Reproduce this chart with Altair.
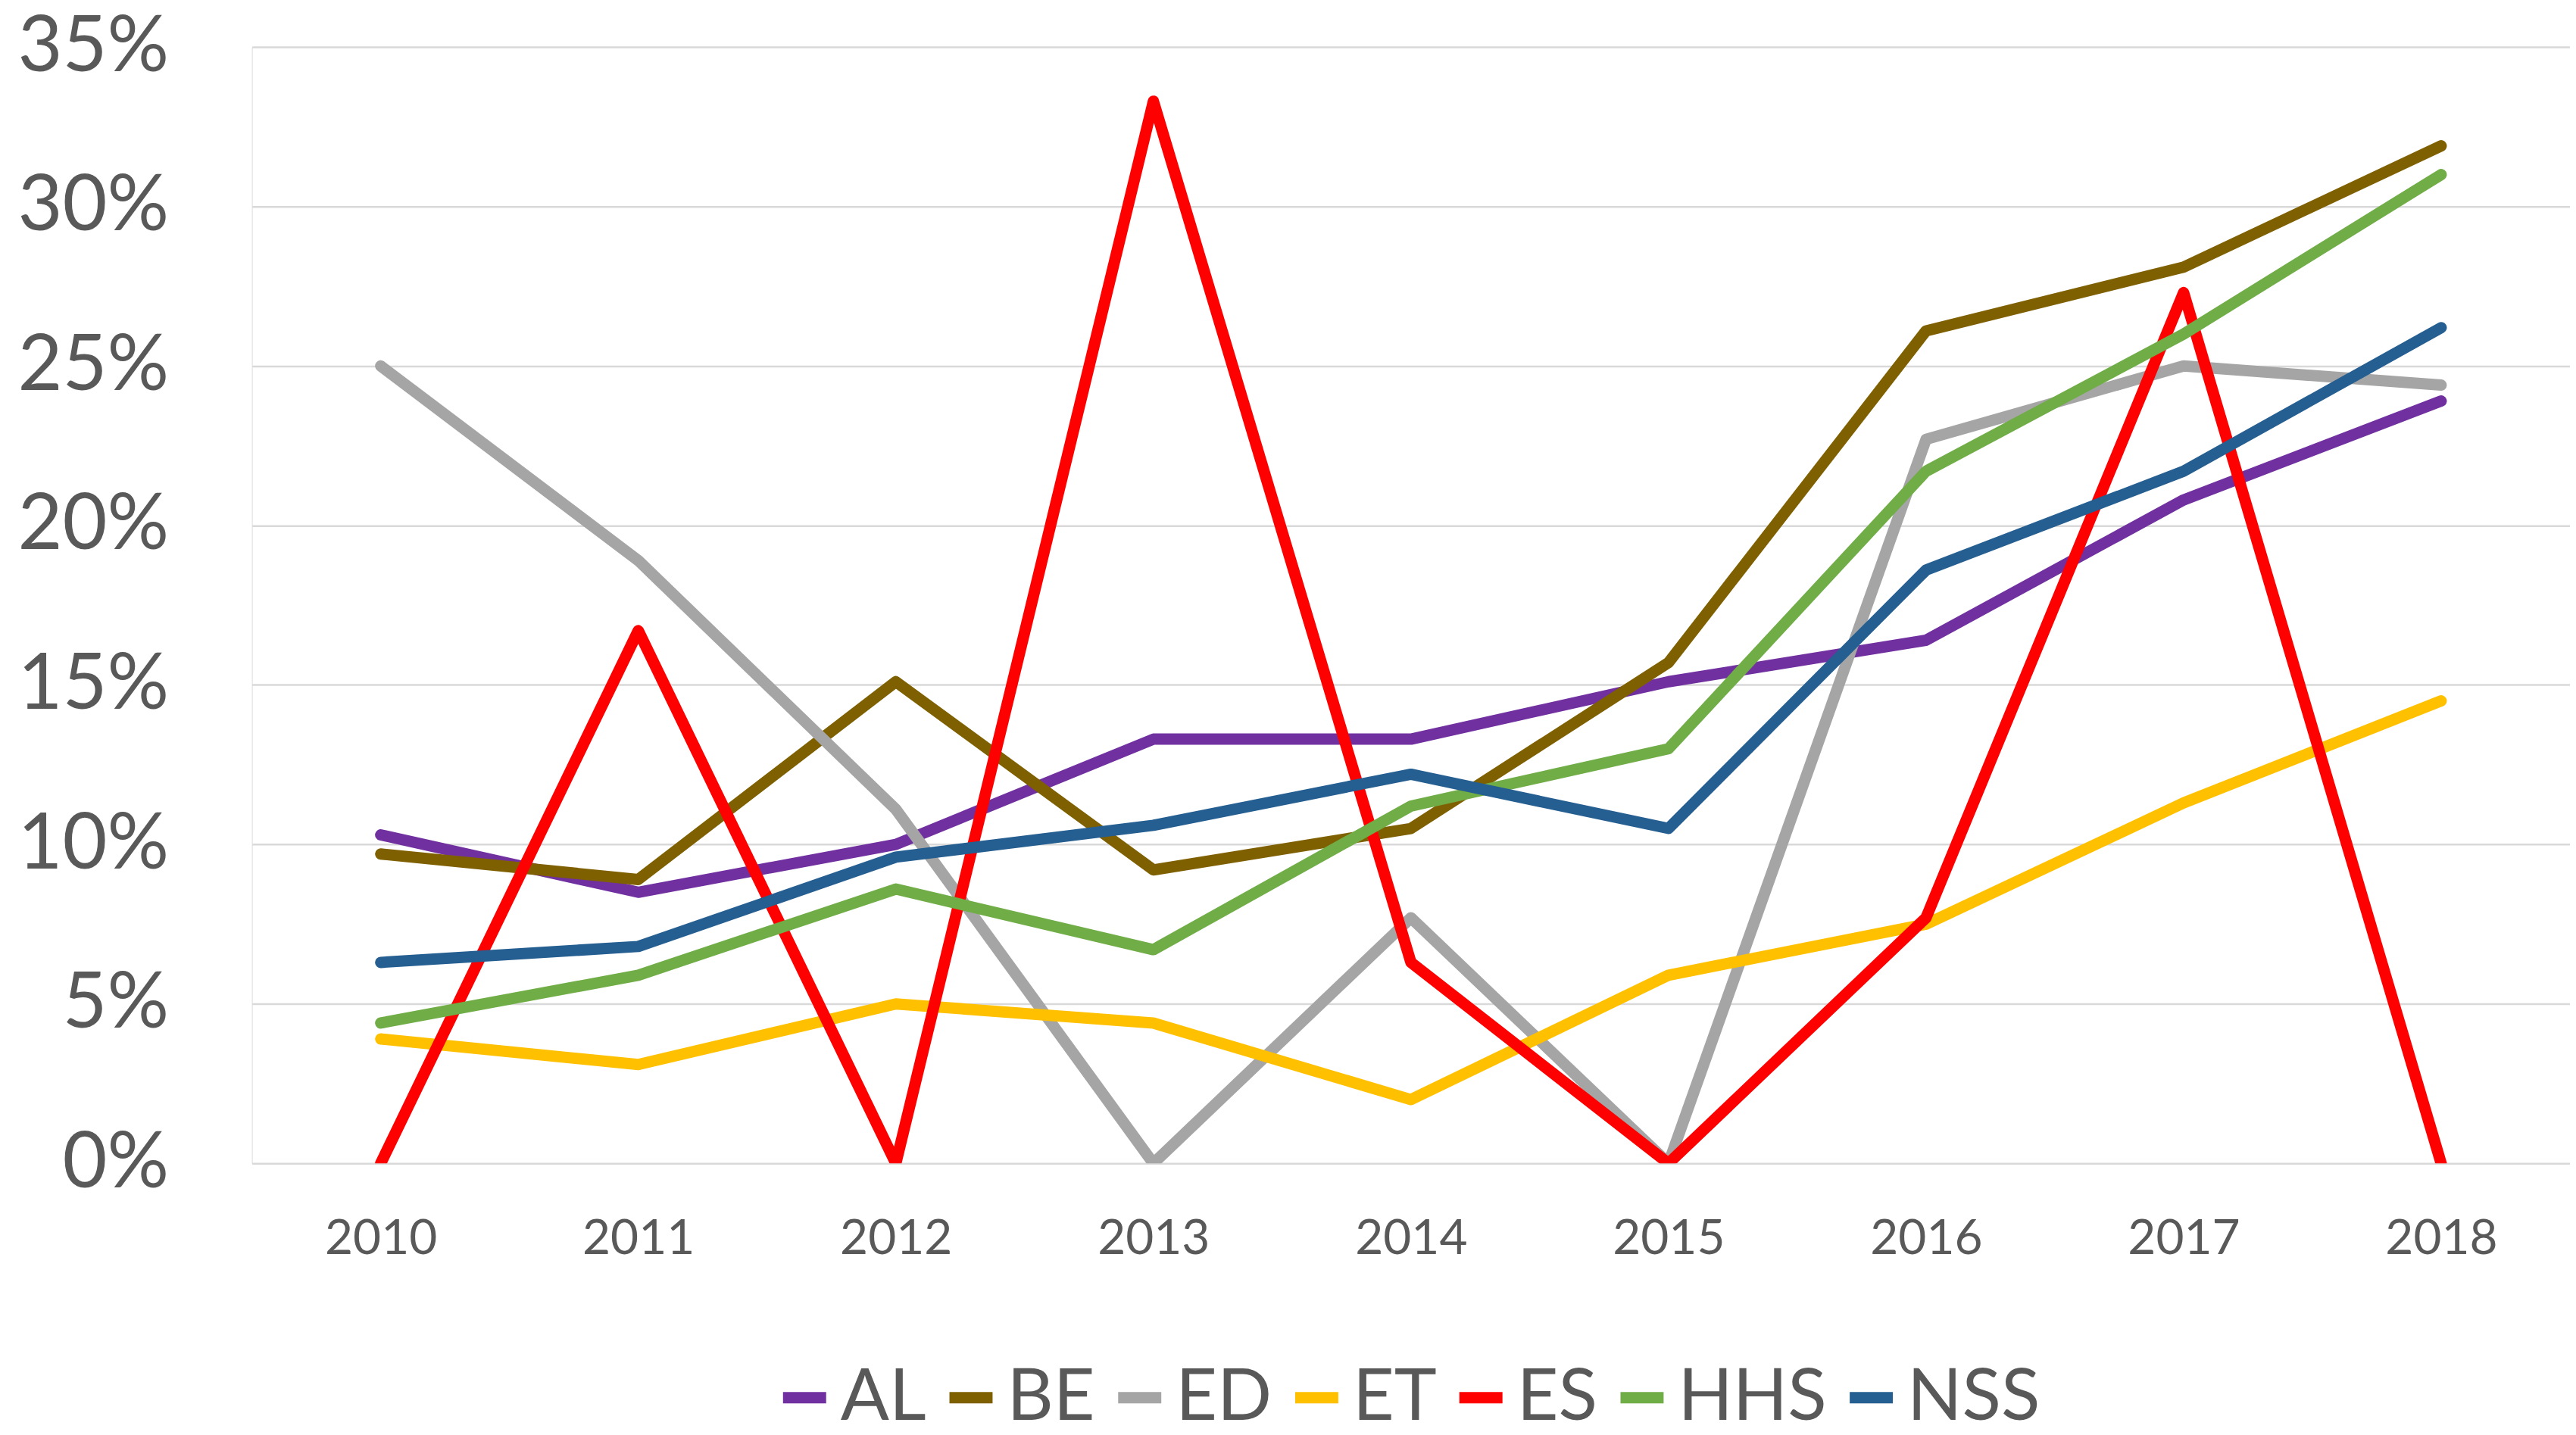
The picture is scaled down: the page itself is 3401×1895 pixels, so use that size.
import altair as alt
import pandas as pd

years = ["2010", "2011", "2012", "2013", "2014", "2015", "2016", "2017", "2018"]
series_names = ["AL", "BE", "ED", "ET", "ES", "HHS", "NSS"]
colors = ["#7030A0", "#7F6000", "#A5A5A5", "#FFC000", "#FF0000", "#70AD47", "#255E91"]

AL = [0.103, 0.085, 0.100, 0.133, 0.133, 0.151, 0.164, 0.208, 0.239]
BE = [0.097, 0.089, 0.151, 0.092, 0.105, 0.157, 0.261, 0.281, 0.319]
ED = [0.250, 0.189, 0.111, 0.000, 0.077, 0.000, 0.227, 0.250, 0.244]
ET = [0.039, 0.031, 0.050, 0.044, 0.020, 0.059, 0.075, 0.113, 0.145]
ES = [0.000, 0.167, 0.000, 0.333, 0.063, 0.000, 0.077, 0.273, 0.000]
HHS = [0.044, 0.059, 0.086, 0.067, 0.112, 0.130, 0.217, 0.260, 0.310]
NSS = [0.063, 0.068, 0.096, 0.106, 0.122, 0.105, 0.186, 0.217, 0.262]

values = [AL, BE, ED, ET, ES, HHS, NSS]
rows = []
for name, vals in zip(series_names, values):
    for yr, v in zip(years, vals):
        rows.append({"year": yr, "series": name, "value": v})
df = pd.DataFrame(rows)

FONT = "Lato"
TXT = "#595959"

chart = alt.Chart(df).mark_line(
    strokeWidth=15, strokeCap="round", strokeJoin="round", clip=True
).encode(
    x=alt.X("year:O", sort=years,
            scale=alt.Scale(type="point", padding=0.5),
            axis=alt.Axis(title=None, labelAngle=0, ticks=False, tickSize=0, domain=False,
                          grid=False, labelFont=FONT, labelFontSize=64,
                          labelColor=TXT, labelPadding=68)),
    y=alt.Y("value:Q",
            scale=alt.Scale(domain=[0, 0.35], nice=False),
            axis=alt.Axis(title=None, format=".0%", values=[0, 0.05, 0.1, 0.15, 0.2, 0.25, 0.3, 0.35],
                          ticks=False, tickSize=0, domain=False, grid=True,
                          gridColor="#D9D9D9", gridWidth=2.5,
                          labelFont=FONT, labelFontSize=102, labelColor=TXT,
                          labelPadding=110, labelLimit=0)),
    color=alt.Color("series:N", sort=series_names,
                    scale=alt.Scale(domain=series_names, range=colors),
                    legend=alt.Legend(title=None, orient="none", direction="horizontal",
                                      legendX=683, legendY=1738,
                                      symbolType="stroke", symbolSize=3249,
                                      symbolStrokeWidth=15, labelOffset=0,
                                      columnPadding=0, labelFont=FONT,
                                      labelFontSize=95, labelColor=TXT,
                                      labelLimit=0)),
    order=alt.Order("year:O"),
).properties(
    width=3064, height=1476,
    autosize=alt.AutoSizeParams(type="none"),
    padding={"left": 325, "top": 53, "right": 0, "bottom": 350},
).configure_view(stroke=None).configure(background="white")

chart.save("out.html", embed_options={"renderer": "svg", "actions": False})
